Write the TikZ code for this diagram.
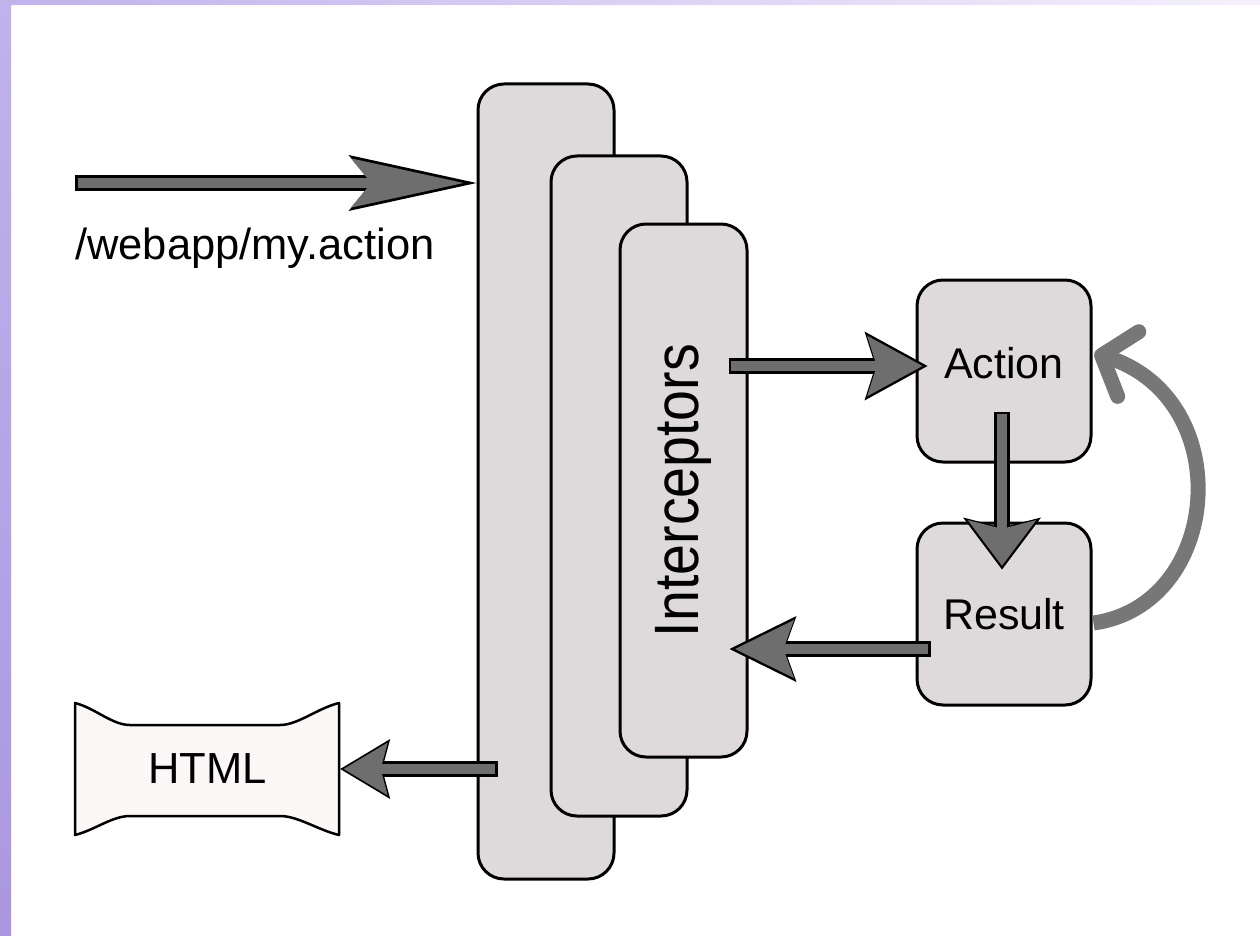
\documentclass[tikz,border=0pt]{standalone}
\usepackage{fontspec}
\setmainfont{Liberation Sans}
\usepackage{graphicx}
\usetikzlibrary{arrows.meta,calc}

\definecolor{boxgray}{HTML}{DEDADB}
\definecolor{pipegray}{HTML}{6E6E6E}
\definecolor{loopgray}{HTML}{777777}
\definecolor{pagepink}{HTML}{FCF7F7}
\definecolor{framelilac}{HTML}{C0B2EB}
\definecolor{framedeep}{HTML}{AA97E1}
\definecolor{framepale}{HTML}{F4F1FC}

\begin{document}
\begin{tikzpicture}[x=1pt,y=-1pt,
  stage/.style={draw,line width=3pt,fill=boxgray,rounded corners=26pt,inner sep=0pt},
  unit/.style={stage,minimum width=174pt,minimum height=182pt,font=\fontsize{43}{50}\selectfont},
  txt/.style={font=\fontsize{43.5}{50}\selectfont,inner sep=0pt},
  sheet/.style={draw,line width=2.5pt,fill=pagepink,line join=round},
  pipe/.style n args={4}{draw=black,line width=16pt,
    -{Stealth[length=#1pt,width=#2pt,inset=#3pt,line width=0pt]},
    postaction={draw=pipegray,line width=10.5pt,shorten <=2.5pt,shorten >=#4pt,
      -{Stealth[length=#1pt,width=#2pt,inset=#3pt,line width=0pt,scale=0.88]}}},
  loopback/.style={draw=loopgray,line width=15pt,-{Straight Barb[length=28pt,width=68pt,round]}}]
\useasboundingbox (0,0) rectangle (1260,936);
\fill[white] (0,0) rectangle (1260,936);
\shade[top color=framelilac,bottom color=framedeep] (0,0) rectangle (11,936);
\shade[left color=framelilac,right color=framepale] (0,0) rectangle (1260,5);

% interceptor stack
\node[stage,minimum width=136pt,minimum height=795pt] (outer) at (546,481.5) {};
\node[stage,minimum width=136pt,minimum height=660pt] (middle) at (619,486) {};
\node[stage,minimum width=127pt,minimum height=533pt,font=\fontsize{55.5}{60}\selectfont] (inner) at (683.5,490.5)
  {\rotatebox{90}{\scalebox{1}[1.13]{Interceptors}}};

\node[unit,text depth=16pt] (action) at (1004,371) {Action};
\node[unit] (result) at (1004,614) {Result};

% returned page
\draw[sheet] (75,703) .. controls (95,708) and (112,725) .. (130,725) -- (280,725)
  .. controls (298,725) and (318,708) .. (339,703) -- (339,835)
  .. controls (318,830) and (298,816) .. (280,816) -- (130,816)
  .. controls (112,816) and (95,830) .. (75,835) -- cycle;
\node[txt,minimum width=265pt,minimum height=132pt] (html) at (207.5,769) {HTML};

\coordinate (request) at (75,183);
\node[txt,anchor=base west] (url) at (75,259) {/webapp/my.action};

\draw[pipe={128}{56}{23}{12.9}] (request) -- (request -| outer.west);
\draw[pipe={63}{69}{11}{5}] ($(inner.east |- action.west)+(-20,-5)$) -- ($(action.west)+(12,-5)$);
\draw[pipe={52}{78}{10}{3.7}] ($(action.south)+(-2,-52)$) -- ($(result.north)+(-2,48)$);
\draw[pipe={67}{66}{12}{5.5}] ($(result.west)+(15,35)$) -- ($(inner.east |- result.west)+(-19,35)$);
\draw[pipe={50}{60}{8}{3.5}] ($(outer.west |- html.east)+(21,0)$) -- (html.east);
\draw[loopback] ($(result.east)+(1,9)$) .. controls (1222,605) and (1238,400) .. ($(action.east)+(2,-18)$);
\end{tikzpicture}
\end{document}
